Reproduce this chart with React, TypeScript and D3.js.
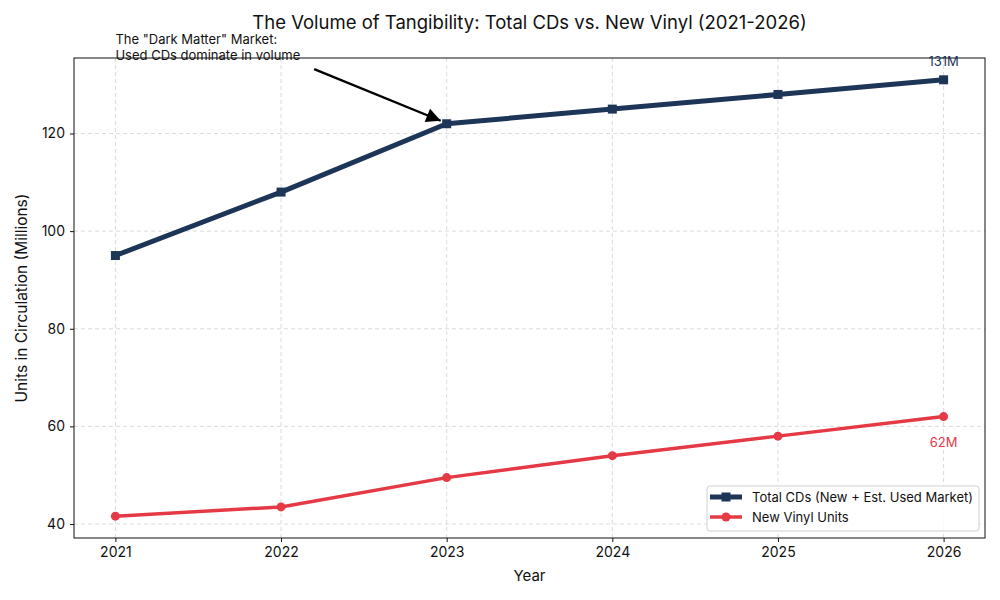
import React, { useEffect, useRef, ReactElement } from 'react'
import * as d3 from 'd3'

const years = [2021, 2022, 2023, 2024, 2025, 2026]
const totalCDs = [95, 108, 122, 125, 128, 131]
const newVinyl = [41.6, 43.5, 49.5, 54, 58, 62]
const yTicks = [40, 60, 80, 100, 120]
const seriesLabels = ['Total CDs (New + Est. Used Market)', 'New Vinyl Units']

const navy = '#1d3557'
const red = '#e63946'
const font = 'Inter, "Noto Sans", sans-serif'

const App = (): ReactElement => {
  const ref = useRef<SVGSVGElement>(null)

  useEffect(() => {
    const svg = d3.select(ref.current)
    svg.selectAll('*').remove()

    const width = 1000
    const height = 600
    const margin = { top: 58, right: 15, bottom: 62, left: 74 }
    const w = width - margin.left - margin.right
    const h = height - margin.top - margin.bottom

    const x = d3.scaleLinear().domain([2020.75, 2026.25]).range([0, w])
    const lo = d3.min(newVinyl) as number
    const hi = d3.max(totalCDs) as number
    const pad = (hi - lo) * 0.05
    const y = d3.scaleLinear().domain([lo - pad, hi + pad]).range([h, 0])

    svg.append('rect').attr('width', width).attr('height', height).attr('fill', 'white')

    const g = svg.append('g').attr('transform', `translate(${margin.left},${margin.top})`)

    // grid
    g.append('g').selectAll('line').data(years).join('line')
      .attr('x1', d => x(d)).attr('x2', d => x(d))
      .attr('y1', 0).attr('y2', h)
      .attr('stroke', '#d2d2d2').attr('stroke-dasharray', '4,3').attr('stroke-width', 0.8)
    g.append('g').selectAll('line').data(yTicks).join('line')
      .attr('x1', 0).attr('x2', w)
      .attr('y1', d => y(d)).attr('y2', d => y(d))
      .attr('stroke', '#d2d2d2').attr('stroke-dasharray', '4,3').attr('stroke-width', 0.8)

    // axes
    const xAxis = g.append('g').attr('transform', `translate(0,${h})`)
      .call(d3.axisBottom(x).tickValues(years).tickFormat(d3.format('d')).tickSizeOuter(0).tickSize(4).tickPadding(5))
    const yAxis = g.append('g')
      .call(d3.axisLeft(y).tickValues(yTicks).tickSizeOuter(0).tickSize(4).tickPadding(5))
    for (const ax of [xAxis, yAxis]) {
      ax.select('.domain').remove()
      ax.selectAll('text').attr('font-family', font).attr('font-size', 14).attr('fill', '#111')
      ax.selectAll('line').attr('stroke', '#111')
    }
    g.append('rect').attr('width', w).attr('height', h)
      .attr('fill', 'none').attr('stroke', '#111').attr('stroke-width', 1)

    // lines
    const line = (vals: number[]) => d3.line<number>()
      .x((_, i) => x(years[i]))
      .y(d => y(d))(vals)

    g.append('path').attr('d', line(newVinyl)).attr('fill', 'none')
      .attr('stroke', red).attr('stroke-width', 3.5).attr('stroke-linejoin', 'round')
    g.append('g').selectAll('circle').data(newVinyl).join('circle')
      .attr('cx', (_, i) => x(years[i])).attr('cy', d => y(d)).attr('r', 4.5).attr('fill', red)

    g.append('path').attr('d', line(totalCDs)).attr('fill', 'none')
      .attr('stroke', navy).attr('stroke-width', 5).attr('stroke-linejoin', 'round')
    g.append('g').selectAll('rect').data(totalCDs).join('rect')
      .attr('x', (_, i) => x(years[i]) - 4.5).attr('y', d => y(d) - 4.5)
      .attr('width', 9).attr('height', 9).attr('fill', navy)

    // end labels
    const last = years.length - 1
    g.append('text').attr('x', x(years[last])).attr('y', y(totalCDs[last]) - 14)
      .attr('text-anchor', 'middle').attr('font-family', font).attr('font-size', 13)
      .attr('fill', navy).text(`${totalCDs[last]}M`)
    g.append('text').attr('x', x(years[last])).attr('y', y(newVinyl[last]) + 30)
      .attr('text-anchor', 'middle').attr('font-family', font).attr('font-size', 13)
      .attr('fill', red).text(`${newVinyl[last]}M`)

    // annotation
    svg.append('defs').append('marker').attr('id', 'arrow')
      .attr('viewBox', '0 0 10 10').attr('refX', 10).attr('refY', 5)
      .attr('markerWidth', 8).attr('markerHeight', 6).attr('markerUnits', 'strokeWidth')
      .attr('orient', 'auto')
      .append('path').attr('d', 'M0,0 L10,5 L0,10 Z').attr('fill', 'black')
    const ax0 = x(2022.2), ay0 = y(135.5 - 2.3)
    const ax1 = x(2023) - 6, ay1 = y(122) - 3
    g.append('line').attr('x1', ax0).attr('y1', ay0).attr('x2', ax1).attr('y2', ay1)
      .attr('stroke', 'black').attr('stroke-width', 2.4).attr('marker-end', 'url(#arrow)')
    const note = g.append('text').attr('font-family', font).attr('font-size', 13).attr('fill', '#111')
    note.append('tspan').attr('x', x(2021)).attr('y', -14).text('The "Dark Matter" Market:')
    note.append('tspan').attr('x', x(2021)).attr('y', 2).text('Used CDs dominate in volume')

    // title and axis labels
    svg.append('text').attr('x', margin.left + w / 2).attr('y', 29)
      .attr('text-anchor', 'middle').attr('font-family', font).attr('font-size', 18.5)
      .attr('fill', '#111').text('The Volume of Tangibility: Total CDs vs. New Vinyl (2021-2026)')
    svg.append('text').attr('x', margin.left + w / 2).attr('y', 581)
      .attr('text-anchor', 'middle').attr('font-family', font).attr('font-size', 15)
      .attr('fill', '#111').text('Year')
    svg.append('text').attr('transform', `translate(27,${margin.top + h / 2}) rotate(-90)`)
      .attr('text-anchor', 'middle').attr('font-family', font).attr('font-size', 15.5)
      .attr('fill', '#111').text('Units in Circulation (Millions)')

    // legend
    const lg = g.append('g').attr('transform', `translate(${w - 278},${h - 52})`)
    lg.append('rect').attr('width', 272).attr('height', 45).attr('rx', 3)
      .attr('fill', 'white').attr('fill-opacity', 0.85).attr('stroke', '#d0d0d0')
    const entries = [
      { label: seriesLabels[0], color: navy, sw: 5, shape: 'square' },
      { label: seriesLabels[1], color: red, sw: 3.5, shape: 'circle' }
    ]
    entries.forEach((e, i) => {
      const ey = 11 + i * 20
      lg.append('line').attr('x1', 3).attr('x2', 35).attr('y1', ey).attr('y2', ey)
        .attr('stroke', e.color).attr('stroke-width', e.sw)
      if (e.shape === 'square') {
        lg.append('rect').attr('x', 19 - 4.5).attr('y', ey - 4.5).attr('width', 9).attr('height', 9).attr('fill', e.color)
      } else {
        lg.append('circle').attr('cx', 19).attr('cy', ey).attr('r', 4.5).attr('fill', e.color)
      }
      lg.append('text').attr('x', 45).attr('y', ey + 4.5).attr('font-family', font).attr('font-size', 13)
        .attr('fill', '#111').text(e.label)
    })
  }, [])

  return <svg ref={ref} width={1000} height={600} style={{ display: 'block', margin: -8 }} />
}

export default App
